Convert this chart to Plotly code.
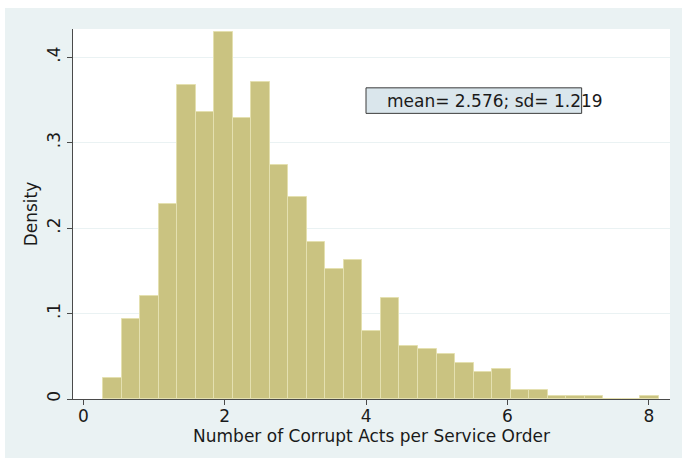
import plotly.graph_objects as go

# Histogram of corrupt acts per service order (density scale)
bin_start = 0.283
bin_width = 0.2618
density = [
    0.0244, 0.0938, 0.1210, 0.2287, 0.3670, 0.3360, 0.4296, 0.3290,
    0.3710, 0.2735, 0.2360, 0.1835, 0.1527, 0.1630, 0.0798, 0.1180,
    0.0626, 0.0590, 0.0525, 0.0420, 0.0318, 0.0350, 0.0108, 0.0108,
    0.0041, 0.0041, 0.0041, 0.0, 0.0, 0.0041,
]
bin_centers = [bin_start + bin_width * (i + 0.5) for i in range(len(density))]

x_ticks = [0, 2, 4, 6, 8]
x_tick_labels = ["0", "2", "4", "6", "8"]
y_ticks = [0, 0.1, 0.2, 0.3, 0.4]
y_tick_labels = ["0", ".1", ".2", ".3", ".4"]

summary_text = "mean= 2.576; sd= 1.219"

graph_bg = "#eaf2f3"
bar_fill = "#cac381"
bar_edge = "#e4e0b0"
axis_col = "#4a4a4a"
font_family = "DejaVu Sans"
fsize = 17

fig = go.Figure()
fig.add_trace(go.Bar(
    x=bin_centers,
    y=density,
    width=bin_width,
    marker=dict(color=bar_fill, line=dict(color=bar_edge, width=1)),
    hoverinfo="skip",
))

fig.update_layout(
    width=682,
    height=458,
    margin=dict(l=73, r=12, t=29, b=59),
    paper_bgcolor="white",
    plot_bgcolor="rgba(0,0,0,0)",
    showlegend=False,
    bargap=0,
    font=dict(family=font_family, size=fsize, color="#1a1a1a"),
    shapes=[
        # outer graph region
        dict(type="rect", xref="paper", yref="paper", layer="below",
             x0=-68 / 597, x1=609 / 597, y0=-59 / 370, y1=391 / 370,
             fillcolor=graph_bg, line=dict(width=0)),
        # plot region
        dict(type="rect", xref="paper", yref="paper", layer="below",
             x0=0, x1=1, y0=0, y1=1,
             fillcolor="white", line=dict(width=0)),
        # summary text box
        dict(type="rect", xref="paper", yref="paper", layer="above",
             x0=0.4908, x1=0.852, y0=0.772, y1=0.841,
             fillcolor="#dae6ec", line=dict(color="#3a3a3a", width=1)),
    ],
    annotations=[
        dict(text=summary_text, xref="paper", yref="paper",
             x=0.523, y=0.8065, xanchor="left", yanchor="middle",
             showarrow=False, font=dict(size=fsize, color="#1a1a1a")),
    ],
)

fig.update_xaxes(
    range=[-0.146, 8.298],
    tickvals=x_ticks,
    ticktext=x_tick_labels,
    ticks="outside",
    ticklen=5,
    tickcolor=axis_col,
    ticklabelstandoff=-3,
    showline=True,
    linecolor=axis_col,
    linewidth=1,
    showgrid=False,
    zeroline=False,
    title=dict(text="Number of Corrupt Acts per Service Order",
               font=dict(size=fsize), standoff=0),
    tickfont=dict(size=fsize),
)

fig.update_yaxes(
    range=[0, 0.433],
    tickvals=y_ticks,
    ticktext=y_tick_labels,
    tickangle=-90,
    ticks="outside",
    ticklen=5,
    tickcolor=axis_col,
    showline=True,
    linecolor=axis_col,
    linewidth=1,
    showgrid=True,
    gridcolor=graph_bg,
    gridwidth=1,
    zeroline=False,
    title=dict(text="Density", font=dict(size=fsize), standoff=2),
    tickfont=dict(size=fsize),
)

fig.write_html("out.html")
